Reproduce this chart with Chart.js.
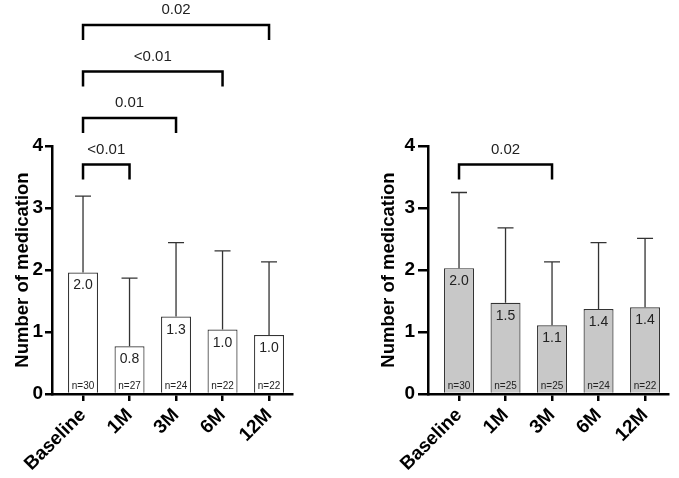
<!DOCTYPE html>
<html>
<head>
<meta charset="utf-8">
<script src="https://cdn.jsdelivr.net/npm/chart.js@4.4.1/dist/chart.umd.min.js"></script>
<style>
  html, body { margin: 0; padding: 0; background: #fff; }
  #wrap { position: relative; width: 679px; height: 478px; }
  .panel { position: absolute; top: 0; height: 478px; }
  #left { left: 0; width: 300px; }
  #right { left: 375px; width: 304px; }
</style>
</head>
<body>
<div id="wrap">
  <div class="panel" id="left"><canvas id="leftChart"></canvas></div>
  <div class="panel" id="right"><canvas id="rightChart"></canvas></div>
</div>
<script>
// time points
const categories = ['Baseline', '1M', '3M', '6M', '12M'];
const yTicks = [0, 1, 2, 3, 4];

// left panel (white bars)
const leftMeans = [1.96, 0.77, 1.25, 1.04, 0.95];
const leftSD = [1.23, 1.10, 1.19, 1.27, 1.18];
const leftLabels = ['2.0', '0.8', '1.3', '1.0', '1.0'];
const leftN = [30, 27, 24, 22, 22];
const leftPairs = [[0, 1, '<0.01'], [0, 2, '0.01'], [0, 3, '<0.01'], [0, 4, '0.02']];

// right panel (grey bars)
const rightMeans = [2.03, 1.47, 1.11, 1.37, 1.40];
const rightSD = [1.22, 1.21, 1.02, 1.07, 1.11];
const rightLabels = ['2.0', '1.5', '1.1', '1.4', '1.4'];
const rightN = [30, 25, 25, 24, 22];
const rightPairs = [[0, 2, '0.02']];

const FONT = '"Liberation Sans", Arial, Helvetica, sans-serif';

// error whiskers, value text, n text and the significance brackets
const extrasPlugin = {
    id: 'extras',
    afterDatasetsDraw(chart, args, o) {
        const ctx = chart.ctx;
        const xs = chart.scales.x;
        const ys = chart.scales.y;
        const base = ys.getPixelForValue(0);
        ctx.save();
        chart.data.datasets[0].data.forEach((d, i) => {
            const cx = xs.getPixelForValue(d.x);
            const top = ys.getPixelForValue(d.y);
            const eTop = ys.getPixelForValue(d.y + o.sd[i]);
            ctx.strokeStyle = '#333';
            ctx.lineWidth = 1.3;
            ctx.beginPath();
            ctx.moveTo(cx, top);
            ctx.lineTo(cx, eTop);
            ctx.moveTo(cx - 8, eTop);
            ctx.lineTo(cx + 8, eTop);
            ctx.stroke();

            ctx.fillStyle = '#222';
            ctx.textAlign = 'center';
            ctx.textBaseline = 'alphabetic';
            ctx.font = '14px ' + FONT;
            ctx.fillText(o.labels[i], cx, top + 17);
            ctx.font = '10px ' + FONT;
            ctx.fillText('n=' + o.n[i], cx, base - 5.5);
        });

        // brackets stack upward from 3.7
        o.pairs.forEach((p, k) => {
            const level = ys.getPixelForValue(3.7 + 0.75 * k);
            const x1 = xs.getPixelForValue(p[0]);
            const x2 = xs.getPixelForValue(p[1]);
            ctx.strokeStyle = '#000';
            ctx.lineWidth = 2.5;
            ctx.lineJoin = 'miter';
            ctx.beginPath();
            ctx.moveTo(x1, level + 15);
            ctx.lineTo(x1, level);
            ctx.lineTo(x2, level);
            ctx.lineTo(x2, level + 15);
            ctx.stroke();
            ctx.fillStyle = '#222';
            ctx.font = '15px ' + FONT;
            ctx.textAlign = 'center';
            ctx.textBaseline = 'alphabetic';
            ctx.fillText(p[2], (x1 + x2) / 2, level - 11);
        });
        ctx.restore();
    }
};

function makeChart(id, means, sd, labels, n, pairs, fill, cfg) {
    const ctx = document.getElementById(id).getContext('2d');
    return new Chart(ctx, {
        type: 'bar',
        data: {
            datasets: [{
                data: means.map((v, i) => ({ x: i, y: v })),
                backgroundColor: fill,
                borderColor: '#333',
                borderWidth: 1.2,
                borderSkipped: 'bottom',
                barPercentage: 0.645,
                categoryPercentage: 1.0
            }]
        },
        options: {
            responsive: true,
            maintainAspectRatio: false,
            animation: false,
            layout: { padding: { top: 146, right: cfg.padRight, left: 0, bottom: 0 } },
            plugins: {
                legend: { display: false },
                tooltip: { enabled: false },
                extras: { sd: sd, labels: labels, n: n, pairs: pairs }
            },
            scales: {
                x: {
                    type: 'linear',
                    min: -0.667,
                    max: 4.5,
                    offset: false,
                    afterBuildTicks: (scale) => {
                        scale.ticks = categories.map((c, i) => ({ value: i }));
                    },
                    afterFit: (scale) => {
                        scale.height = 84;
                        scale.paddingLeft = 0;
                        scale.paddingRight = 0;
                    },
                    ticks: {
                        autoSkip: false,
                        minRotation: 45,
                        maxRotation: 45,
                        padding: 3,
                        color: '#000',
                        font: { family: FONT, size: 19, weight: 'bold' },
                        callback: (v) => categories[v]
                    },
                    grid: {
                        offset: false,
                        drawOnChartArea: false,
                        drawTicks: true,
                        tickLength: 7,
                        lineWidth: 2.5,
                        color: '#000'
                    },
                    border: { display: true, width: 2.5, color: '#000' }
                },
                y: {
                    min: 0,
                    max: 4,
                    afterBuildTicks: (scale) => {
                        scale.ticks = yTicks.map(v => ({ value: v }));
                    },
                    afterFit: (scale) => {
                        scale.width = cfg.axisWidth;
                    },
                    ticks: {
                        padding: cfg.tickPad,
                        color: '#000',
                        font: { family: FONT, size: 19, weight: 'bold' }
                    },
                    grid: {
                        drawOnChartArea: false,
                        drawTicks: true,
                        tickLength: cfg.tickLen,
                        lineWidth: 2.5,
                        color: '#000'
                    },
                    border: { display: true, width: 2.5, color: '#000' },
                    title: {
                        display: true,
                        text: 'Number of medication',
                        color: '#000',
                        font: { family: FONT, size: 18.5, weight: 'bold' },
                        padding: { top: cfg.titlePad, bottom: 0 }
                    }
                }
            }
        },
        plugins: [extrasPlugin]
    });
}

makeChart('leftChart', leftMeans, leftSD, leftLabels, leftN, leftPairs, '#ffffff',
    { axisWidth: 52, padRight: 7.7, tickPad: 2, tickLen: 7, titlePad: 12 });
makeChart('rightChart', rightMeans, rightSD, rightLabels, rightN, rightPairs, '#c8c8c8',
    { axisWidth: 53, padRight: 10.7, tickPad: 3, tickLen: 10, titlePad: 3 });
</script>
</body>
</html>
